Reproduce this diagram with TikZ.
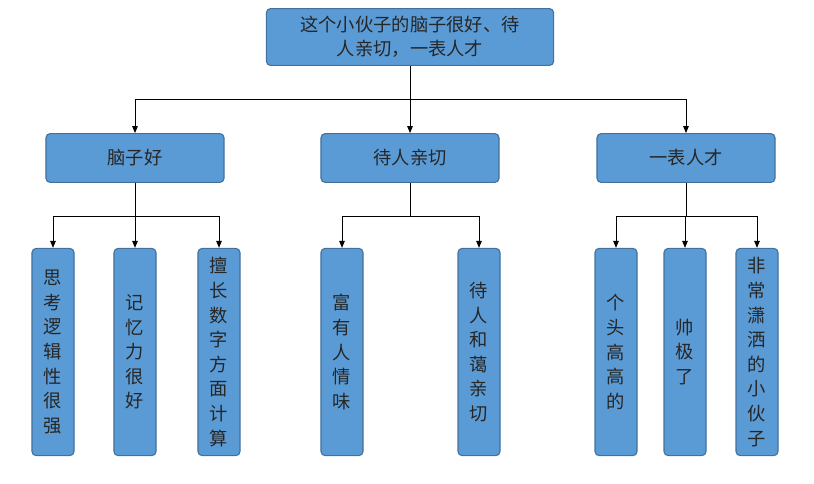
\documentclass[tikz,border=0pt]{standalone}
\usepackage{fontspec}
\newfontfamily\cjk{Noto Sans CJK SC}
\usetikzlibrary{arrows.meta,positioning}
\definecolor{boxfill}{HTML}{5B9BD5}
\definecolor{boxline}{HTML}{41719C}
\begin{document}
\begin{tikzpicture}[
    x=0.025cm, y=-0.025cm,
    box/.style={
        % The shape:
        rectangle, rounded corners=3pt,
        % The fill
        draw=boxline, fill=boxfill, thick,
        % The fonts
        font=\cjk\fontsize{13}{17}\selectfont, text=black!85, align=center},
    wide/.style={box, minimum width=4.45cm, minimum height=1.22cm},
    tall/.style={box, minimum width=1.05cm, minimum height=5.18cm,
        font=\cjk\fontsize{13}{17.5}\selectfont},
    link/.style={draw=black, line width=0.6pt, -{Triangle[length=5pt,width=4pt]}}
  ]
  \useasboundingbox (0,0) rectangle (814,483);
  \node (root) [box, minimum width=7.18cm, minimum height=1.42cm] at (410,37)
    {这个小伙子的脑子很好、待\\人亲切，一表人才};
  \node (brain) [wide] at (135,158) {脑子好};
  \node (kind) [wide] at (410,158) {待人亲切};
  \node (look) [wide] at (686,158) {一表人才};
  \node (logic) [tall] at (53,352) {思\\考\\逻\\辑\\性\\很\\强};
  \node (memory) [tall] at (135,352) {记\\忆\\力\\很\\好};
  \node (math) [tall] at (219,352) {擅\\长\\数\\字\\方\\面\\计\\算};
  \node (warm) [tall] at (342,352) {富\\有\\人\\情\\味};
  \node (gentle) [tall] at (479,352) {待\\人\\和\\蔼\\亲\\切};
  \node (tall) [tall] at (616,352) {个\\头\\高\\高\\的};
  \node (cool) [tall] at (685,352) {帅\\极\\了};
  \node (smart) [tall] at (757,352) {非\\常\\潇\\洒\\的\\小\\伙\\子};
  % first level
  \draw [line width=0.6pt] (root.south) -- ++(0,33) coordinate (r);
  \foreach \c in {brain,kind,look}
    \draw [link] (r) -| (\c.north);
  % second level
  \draw [line width=0.6pt] (brain.south) -- ++(0,33) coordinate (b);
  \foreach \c in {logic,memory,math}
    \draw [link] (b) -| (\c.north);
  \draw [line width=0.6pt] (kind.south) -- ++(0,33) coordinate (k);
  \foreach \c in {warm,gentle}
    \draw [link] (k) -| (\c.north);
  \draw [line width=0.6pt] (look.south) -- ++(0,33) coordinate (l);
  \foreach \c in {tall,cool,smart}
    \draw [link] (l) -| (\c.north);
\end{tikzpicture}
\end{document}
